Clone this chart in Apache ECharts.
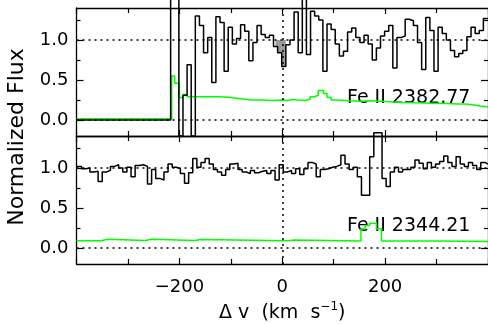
<!DOCTYPE html>
<html>
<head>
<meta charset="utf-8">
<script src="https://cdn.jsdelivr.net/npm/echarts@6/dist/echarts.min.js"></script>
<style>
  html, body { margin: 0; padding: 0; background: #fff; overflow: hidden; }
  #chart { width: 488px; height: 324px; }
</style>
</head>
<body>
<div id="chart"></div>
<script>
// Velocity axis (km/s) and normalized-flux tick values
const xRange = [-400, 400];
const yRange = [-0.2, 1.4];
const yMajorTicks = [0, 0.5, 1.0];
const yMinorTicks = [0.25, 0.75, 1.25];

// Fe II 2382.77 : flux per pixel (left edge velocity of each pixel)
const velFe2382 = [-400, -217, -209, -201, -193, -185, -177, -169, -161, -153, -145,
  -137, -129, -121, -113, -105, -97, -89, -81, -73, -65, -57, -49, -41, -33, -25, -17,
  -9, -1, 7, 15, 23, 31, 39, 47, 55, 63, 71, 79, 87, 95, 103, 111, 119, 127, 135, 143,
  151, 159, 167, 175, 183, 191, 199, 207, 215, 223, 231, 239, 247, 255, 263, 271, 279,
  287, 295, 303, 311, 319, 327, 335, 343, 351, 359, 367, 375, 383, 391, 400];
const fluxFe2382 = [0, 1.6, 1.6, -0.2, 0.31, 0.69, -0.2, 1.30, 1.18, 0.84, 1.03,
  0.47, 1.29, 1.22, 0.61, 1.16, 0.95, 1.02, 1.19, 1.11, 0.74, 0.97, 1.18, 1.07, 1.03, 1.06, 0.92,
  0.84, 0.67, 0.94, 1.00, 1.35, 0.84, 1.6, 0.82, 1.36, 1.30, 1.25, 0.61, 1.20, 1.13, 0.95, 0.80,
  0.86, 1.10, 1.15, 1.03, 0.97, 1.06, 0.95, 0.75, 0.90, 1.05, 1.11, 1.18, 0.65, 1.03, 1.05, 1.26,
  1.24, 1.18, 0.97, 0.63, 1.28, 1.12, 0.61, 1.16, 1.08, 1.00, 0.87, 0.79, 0.83, 0.87, 1.04, 1.16,
  1.08, 1.12, 1.27, 1.27];

// Fe II 2382.77 : 1-sigma error spectrum
const velErr2382 = [-400, -215, -209, -200, -193, -185, -150, -120, -100, -84, -60, -40, -20,
  0, 10, 20, 30, 45, 54, 63, 70, 80, 87, 95, 110, 130, 150, 170, 200, 230, 260, 290, 320,
  340, 355, 370, 385, 400];
const errFe2382 = [0.015, 0.55, 0.46, 0.28, 0.32, 0.29, 0.29, 0.28, 0.27, 0.25, 0.25, 0.245, 0.25,
  0.245, 0.255, 0.25, 0.245, 0.26, 0.29, 0.31, 0.37, 0.33, 0.28, 0.25, 0.24, 0.235, 0.24, 0.23,
  0.22, 0.215, 0.21, 0.205, 0.2, 0.2, 0.19, 0.175, 0.165, 0.16];

// Absorption shaded below the continuum near v = 0
const velShade = [-13, -9, -1, 7];
const fluxShade = [0.92, 0.84, 0.67, 0.67];

// Fe II 2344.21 : flux per pixel
const velFe2344 = [-400, -390, -382, -374, -366, -358, -350, -342, -334, -326, -318, -310, -302,
  -294, -286, -278, -270, -262, -254, -246, -238, -230, -222, -214, -206, -198, -190, -182,
  -174, -166, -158, -150, -142, -134, -126, -118, -110, -102, -94, -86, -78, -70, -62, -54,
  -46, -38, -30, -22, -14, -6, 2, 10, 18, 26, 34, 42, 50, 58, 66, 74, 82, 90, 98, 106, 114,
  122, 130, 138, 146, 154, 162, 170, 178, 186, 194, 202, 210, 218, 226, 234, 242, 250, 258,
  266, 274, 282, 290, 298, 306, 314, 322, 330, 338, 346, 354, 362, 370, 378, 386, 394, 400];
const fluxFe2344 = [1.02, 0.99, 1.00, 0.95, 0.96, 0.83, 0.95, 0.97, 1.02, 1.04, 1.00, 0.95, 1.01,
  0.89, 1.03, 1.04, 1.02, 0.80, 0.98, 0.87, 0.85, 0.95, 1.05, 1.01, 0.99, 0.93, 0.81, 0.94,
  1.12, 1.01, 1.07, 1.12, 1.05, 0.98, 0.95, 0.91, 0.98, 1.05, 1.06, 0.98, 0.95, 0.93, 0.97, 0.94,
  0.96, 0.97, 0.93, 0.97, 0.85, 1.04, 0.95, 0.97, 0.93, 0.99, 0.92, 0.99, 1.07, 1.05, 0.89, 0.98,
  0.99, 1.01, 1.02, 1.04, 1.16, 1.05, 0.98, 1.01, 0.89, 0.66, 0.66, 1.14, 1.44, 1.44, 0.87, 0.77,
  0.95, 1.01, 0.95, 0.98, 0.98, 1.01, 1.10, 1.06, 0.99, 1.07, 1.01, 1.05, 1.08, 1.15, 1.07, 1.02,
  1.14, 1.05, 1.02, 1.07, 1.03, 0.98, 1.07, 1.05, 1.05];

// Fe II 2344.21 : 1-sigma error spectrum
const velErr2344 = [-400, -352, -340, -266, -254, -170, -158, 10, 24, 153, 161, 170, 183, 193,
  300, 400];
const errFe2344 = [0.09, 0.11, 0.095, 0.11, 0.095, 0.105, 0.09, 0.1, 0.088, 0.24, 0.28, 0.31,
  0.24, 0.088, 0.08, 0.075];

const zip = (xs, ys) => xs.map((x, i) => [x, ys[i]]);

const FONT = 'DejaVu Sans';
const INK = '#000';
const frame = { show: true, onZero: false, lineStyle: { color: INK, width: 1.3 } };

function xAxisFor(gridIndex, position, withLabels) {
  return {
    type: 'value', gridIndex, position,
    min: xRange[0], max: xRange[1], interval: 200,
    axisLine: frame,
    axisTick: { show: true, inside: true, length: 6, lineStyle: { color: INK, width: 1.2 } },
    minorTick: { show: true, splitNumber: 2, length: 5, lineStyle: { color: INK, width: 1.2 } },
    splitLine: { show: false },
    axisLabel: {
      show: withLabels, showMinLabel: false, showMaxLabel: false,
      color: INK, fontFamily: FONT, fontSize: 18, margin: 14,
      formatter: v => String(v).replace('-', '\u2212')
    }
  };
}

function yAxisFor(gridIndex, position, ticks, len, withLabels, withLine) {
  return {
    type: 'value', gridIndex, position,
    min: yRange[0], max: yRange[1],
    axisLine: withLine ? frame : { show: false, onZero: false },
    axisTick: { show: true, inside: true, length: len, customValues: ticks,
      lineStyle: { color: INK, width: 1.2 } },
    splitLine: { show: false },
    axisLabel: {
      show: withLabels, customValues: ticks, color: INK, fontFamily: FONT, fontSize: 18,
      margin: 8, formatter: v => v.toFixed(1)
    }
  };
}

const dotted = {
  silent: true, symbol: ['none', 'none'], label: { show: false },
  lineStyle: { color: INK, width: 1.5, type: [2, 4] },
  data: [{ yAxis: 0 }, { yAxis: 1 }, { xAxis: 0 }]
};

const chart = echarts.init(document.getElementById('chart'), null, { renderer: 'canvas' });

chart.setOption({
  animation: false,
  backgroundColor: '#fff',
  textStyle: { fontFamily: FONT },
  grid: [
    { left: 76.5, top: 8, width: 414.4, height: 128 },
    { left: 76.5, top: 136, width: 414.4, height: 128 }
  ],
  xAxis: [
    xAxisFor(0, 'bottom', false),
    xAxisFor(0, 'top', false),
    Object.assign(xAxisFor(1, 'bottom', true), {
      name: '{a|\u0394 v  (km  s}{b|\u22121}{a|)}',
      nameLocation: 'middle', nameGap: 37,
      nameTextStyle: {
        rich: {
          a: { fontFamily: FONT, fontSize: 19, color: INK },
          b: { fontFamily: FONT, fontSize: 12, color: INK, padding: [0, 0, 12, 0] }
        }
      }
    }),
    xAxisFor(1, 'top', false)
  ],
  yAxis: [
    yAxisFor(0, 'left', yMajorTicks, 7, true, true),
    yAxisFor(0, 'left', yMinorTicks, 4, false, false),
    yAxisFor(0, 'right', yMajorTicks, 7, false, true),
    yAxisFor(0, 'right', yMinorTicks, 4, false, false),
    yAxisFor(1, 'left', yMajorTicks, 7, true, true),
    yAxisFor(1, 'left', yMinorTicks, 4, false, false),
    yAxisFor(1, 'right', yMajorTicks, 7, false, true),
    yAxisFor(1, 'right', yMinorTicks, 4, false, false)
  ],
  series: [
    {
      type: 'line', xAxisIndex: 0, yAxisIndex: 0, step: 'end', symbol: 'none', silent: true,
      data: zip(velShade, fluxShade),
      lineStyle: { width: 0 },
      areaStyle: { color: '#9c9c9c', opacity: 1, origin: 1 }
    },
    {
      type: 'line', xAxisIndex: 0, yAxisIndex: 0, step: 'end', symbol: 'none', silent: true,
      data: zip(velErr2382, errFe2382),
      lineStyle: { color: '#00ff00', width: 1.5 }
    },
    {
      type: 'line', xAxisIndex: 0, yAxisIndex: 0, step: 'end', symbol: 'none', silent: true,
      clip: false,
      data: zip(velFe2382, fluxFe2382),
      lineStyle: { color: INK, width: 1.5 },
      markLine: dotted
    },
    {
      type: 'line', xAxisIndex: 2, yAxisIndex: 4, step: 'end', symbol: 'none', silent: true,
      data: zip(velErr2344, errFe2344),
      lineStyle: { color: '#00ff00', width: 1.5 }
    },
    {
      type: 'line', xAxisIndex: 2, yAxisIndex: 4, step: 'end', symbol: 'none', silent: true,
      clip: false,
      data: zip(velFe2344, fluxFe2344),
      lineStyle: { color: INK, width: 1.5 },
      markLine: dotted
    }
  ],
  graphic: [
    {
      type: 'text', x: 17, y: 137, rotation: Math.PI / 2, silent: true,
      style: { text: 'Normalized Flux', fontFamily: FONT, fontSize: 22, fill: INK,
        align: 'center', verticalAlign: 'middle' }
    },
    {
      type: 'text', x: 347, y: 98, silent: true,
      style: { text: 'Fe II 2382.77', fontFamily: FONT, fontSize: 19, fill: INK,
        align: 'left', verticalAlign: 'middle' }
    },
    {
      type: 'text', x: 347, y: 226, silent: true,
      style: { text: 'Fe II 2344.21', fontFamily: FONT, fontSize: 19, fill: INK,
        align: 'left', verticalAlign: 'middle' }
    }
  ]
});
</script>
</body>
</html>
